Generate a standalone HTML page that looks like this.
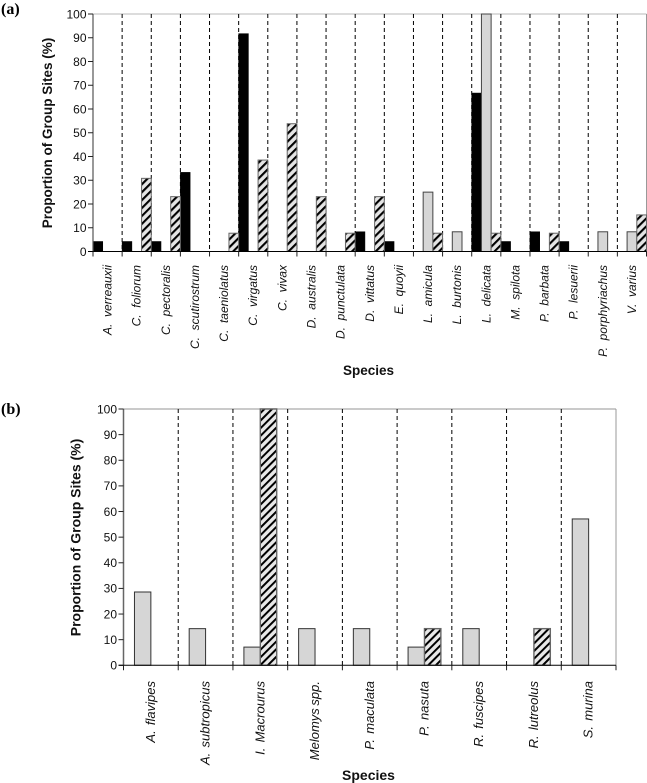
<!DOCTYPE html>
<html lang="en">
<head>
<meta charset="utf-8">
<title>Proportion of Group Sites by Species</title>
<style>
html,body{margin:0;padding:0;background:#fff;width:647px;height:783px;overflow:hidden}
svg{display:block}
text{font-family:"Liberation Sans",sans-serif;fill:#111}
.tick{font-size:12px}
.title-a{font-size:13.5px;font-weight:bold}
.title-b{font-size:14px;font-weight:bold}
.cat-a{font-size:12px;font-style:italic}
.cat-b{font-size:13px;font-style:italic;word-spacing:-1px}
.panel{font-family:"Liberation Serif",serif;font-weight:bold;font-size:16px;fill:#000}
</style>
</head>
<body>
<svg id="fig" xmlns="http://www.w3.org/2000/svg" width="647" height="783" viewBox="0 0 647 783">
<defs>
<pattern id="hatch-a" patternUnits="userSpaceOnUse" width="5.6" height="5.6" patternTransform="rotate(45)">
<rect width="5.6" height="5.6" fill="#e4e4e4"/><rect width="2.1" height="5.6" fill="#000"/>
</pattern>
<pattern id="hatch-b" patternUnits="userSpaceOnUse" width="5.4" height="5.4" patternTransform="rotate(45)">
<rect width="5.4" height="5.4" fill="#e8e8e8"/><rect width="2" height="5.4" fill="#000"/>
</pattern>
</defs>
<text class="panel" x="1" y="14">(a)</text>
<text class="panel" x="1" y="414">(b)</text>
</svg>
<script>
const ticks = [0, 10, 20, 30, 40, 50, 60, 70, 80, 90, 100];
const catsA = ["A.  verreauxii", "C.  foliorum", "C.  pectoralis", "C.  scutirostrum", "C.  taeniolatus", "C.  virgatus", "C.  vivax", "D.  australis", "D.  punctulata", "D.  vittatus", "E.  quoyii", "L.  amicula", "L.  burtonis", "L.  delicata", "M.  spilota", "P.  barbata", "P.  lesuerii", "P.  porphyriachus", "V.  varius"];
const blackA = [4.2, 4.2, 4.2, 33.3, 0, 91.7, 0, 0, 0, 8.3, 4.2, 0, 0, 66.7, 4.2, 8.3, 4.2, 0, 0];
const greyA = [0, 0, 0, 0, 0, 0, 0, 0, 0, 0, 0, 25, 8.3, 100, 0, 0, 0, 8.3, 8.3];
const hatchA = [0, 30.8, 23.1, 0, 7.7, 38.5, 53.8, 23.1, 7.7, 23.1, 0, 7.7, 0, 7.7, 0, 7.7, 0, 0, 15.4];
const catsB = ["A.  flavipes", "A.  subtropicus", "I.  Macrourus", "Melomys spp.", "P.  maculata", "P.  nasuta", "R.  fuscipes", "R.  lutreolus", "S.  murina"];
const greyB = [28.6, 14.3, 7.1, 14.3, 14.3, 7.1, 14.3, 0, 57.1];
const hatchB = [0, 0, 100, 0, 0, 14.3, 0, 14.3, 0];
const axisTitleY = "Proportion of Group Sites (%)";
const axisTitleX = "Species";

const svg = document.getElementById('fig');
const NS = 'http://www.w3.org/2000/svg';

function make(tag, attrs, text) {
  const el = document.createElementNS(NS, tag);
  for (const k in attrs) el.setAttribute(k, attrs[k]);
  if (text !== undefined) el.textContent = text;
  svg.appendChild(el);
  return el;
}

function drawChart(cfg) {
  const L = cfg.left, R = cfg.right, T = cfg.top, B = cfg.bottom;
  const n = cfg.cats.length;
  const step = (R - L) / n;
  const xAt = i => L + step * i;
  const yAt = v => B - (B - T) * v / 100;

  // frame top and right
  const top = make('line', {x1: L, x2: R, y1: T, y2: T, stroke: '#b8b8b8', 'stroke-width': cfg.topW});
  
  
  const right = make('line', {x1: R, x2: R, y1: T, y2: B, stroke: '#999', 'stroke-width': 1});
  
  

  // dashed separators
  for (let i = 1; i < n; i++) {
    const d = make('line', {x1: xAt(i), x2: xAt(i), y1: T, y2: B, stroke: '#000', 'stroke-width': 1, 'stroke-dasharray': '4 3'});
    
    
  }

  // bars
  const count = cfg.series.length;
  const barW = cfg.barW;
  const pad = (step - barW * count) / 2;
  cfg.series.forEach((s, si) => {
    s.values.forEach((v, i) => {
      if (!v) return;
      const x = xAt(i) + pad + si * barW;
      const r = make('rect', {x: x, y: yAt(v), width: barW, height: yAt(0) - yAt(v), fill: s.fill, stroke: s.stroke, 'stroke-width': s.sw});
      
      
    });
  });

  // y axis
  const yAxis = make('line', {x1: L, x2: L, y1: T, y2: B, stroke: cfg.axisColor, 'stroke-width': cfg.axisW});
  
  
  ticks.forEach(t => {
    const m = make('line', {x1: L - 5, x2: L, y1: yAt(t), y2: yAt(t), stroke: '#222', 'stroke-width': 1});
    
    
    const lb = make('text', {class: 'tick', x: L - 6.5, y: yAt(t) + 4.3, 'text-anchor': 'end'}, String(t));
    
    
  });

  // x axis
  const xAxis = make('line', {x1: L - 5, x2: R, y1: B, y2: B, stroke: '#000', 'stroke-width': 1});
  
  
  for (let i = 0; i <= n; i++) {
    const m = make('line', {x1: xAt(i), x2: xAt(i), y1: B, y2: B + 5, stroke: '#222', 'stroke-width': 1});
    
    
  }
  cfg.cats.forEach((c, i) => {
    const cx = xAt(i) + step / 2 + 4;
    const lb = make('text', {class: cfg.catClass, 'text-anchor': 'end', 'xml:space': 'preserve', style: 'white-space:pre', transform: 'translate(' + cx + ',' + cfg.labelTop + ') rotate(-90)'}, c);
    
    
  });

  // titles
  const ty = make('text', {class: cfg.titleClass, 'text-anchor': 'middle', transform: 'translate(' + cfg.yTitleX + ',' + cfg.yTitleY + ') rotate(-90)'}, axisTitleY);
  
  
  const tx = make('text', {class: cfg.titleClass, 'text-anchor': 'middle', x: cfg.xTitleX, y: cfg.xTitleY}, axisTitleX);
  
  
}

drawChart({
  id: 'chart-a', left: 93, right: 646.5, top: 14, bottom: 251.5,
  cats: catsA, barW: 9.7, topW: 1, axisColor: '#555', axisW: 1.2,
  catClass: 'cat-a', titleClass: 'title-a',
  labelTop: 265, yTitleX: 52, yTitleY: 133, xTitleX: 368.5, xTitleY: 375,
  series: [
    {name: 'black', values: blackA, fill: '#000', stroke: '#000', sw: 0.6},
    {name: 'grey', values: greyA, fill: '#d6d6d6', stroke: '#444', sw: 1},
    {name: 'hatched', values: hatchA, fill: 'url(#hatch-a)', stroke: '#666', sw: 1}
  ]
});

drawChart({
  id: 'chart-b', left: 123.5, right: 616, top: 409, bottom: 665.3,
  cats: catsB, barW: 16.4, topW: 1.5, axisColor: '#666', axisW: 1.5,
  catClass: 'cat-b', titleClass: 'title-b',
  labelTop: 681, yTitleX: 80.5, yTitleY: 537.5, xTitleX: 368.5, xTitleY: 780,
  series: [
    {name: 'grey', values: greyB, fill: '#d6d6d6', stroke: '#333', sw: 1},
    {name: 'hatched', values: hatchB, fill: 'url(#hatch-b)', stroke: '#666', sw: 1.4}
  ]
});
</script>
</body>
</html>
